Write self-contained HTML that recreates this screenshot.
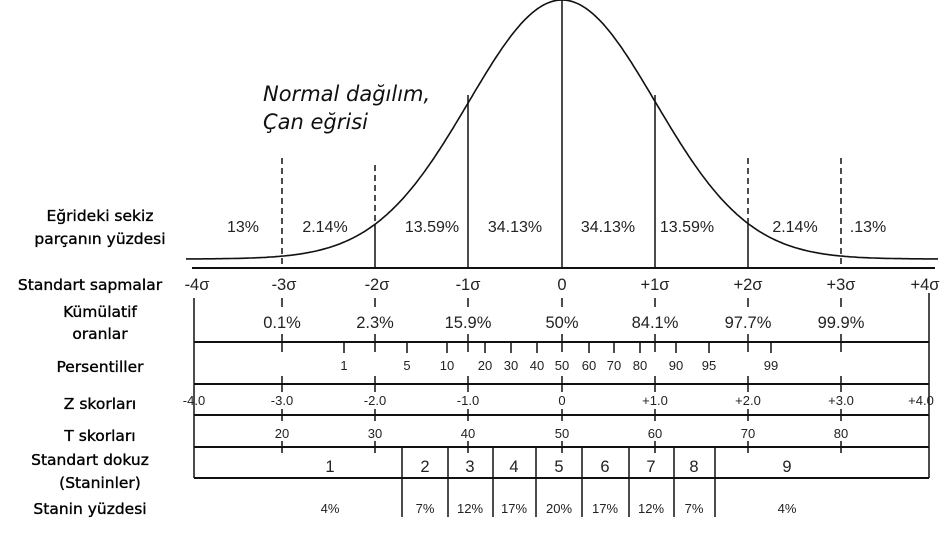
<!DOCTYPE html>
<html><head><meta charset="utf-8"><style>
html,body{margin:0;padding:0;background:#fff;}
svg{display:block}
.l{font-family:"DejaVu Sans","Liberation Sans",sans-serif;font-size:15.5px;fill:#000;text-anchor:middle;stroke:#000;stroke-width:0.35}
.a{font-family:"Liberation Sans",sans-serif;font-size:16px;fill:#222;text-anchor:middle}
.s{font-family:"Liberation Sans",sans-serif;font-size:13px;fill:#222;text-anchor:middle}
.b{font-family:"Liberation Sans",sans-serif;font-size:16.5px;fill:#222;text-anchor:middle}
</style></head><body>
<svg id="g" width="940" height="538" viewBox="0 0 940 538" xmlns="http://www.w3.org/2000/svg">
<g stroke="#111" stroke-width="1.5" fill="none" id="lines">
<path id="curve" stroke-width="1.6"/>
<line x1="192" y1="268" x2="935" y2="268" stroke-width="2"/>
<line x1="562" y1="0" x2="562" y2="268"/>
<line x1="468" y1="95" x2="468" y2="268"/>
<line x1="655" y1="95" x2="655" y2="268"/>
<line x1="375" y1="224" x2="375" y2="268"/>
<line x1="748" y1="224" x2="748" y2="268"/>
<line x1="375" y1="165" x2="375" y2="224" stroke-dasharray="6,4"/>
<line x1="748" y1="158" x2="748" y2="224" stroke-dasharray="6,4"/>
<line x1="282" y1="158" x2="282" y2="268" stroke-dasharray="6,4"/>
<line x1="841" y1="158" x2="841" y2="268" stroke-dasharray="6,4"/>
<line x1="194" y1="298" x2="194" y2="478"/>
<line x1="929" y1="293" x2="929" y2="478"/>
<line x1="194" y1="342" x2="929" y2="342" stroke-width="2"/>
<line x1="194" y1="384" x2="929" y2="384" stroke-width="2"/>
<line x1="194" y1="415" x2="929" y2="415" stroke-width="2"/>
<line x1="194" y1="447" x2="929" y2="447" stroke-width="2"/>
<line x1="194" y1="478" x2="929" y2="478" stroke-width="2"/>
<g id="ticks"></g>
<line x1="402" y1="447" x2="402" y2="517"/>
<line x1="448" y1="447" x2="448" y2="517"/>
<line x1="493" y1="447" x2="493" y2="517"/>
<line x1="536" y1="447" x2="536" y2="517"/>
<line x1="582" y1="447" x2="582" y2="517"/>
<line x1="629" y1="447" x2="629" y2="517"/>
<line x1="674" y1="447" x2="674" y2="517"/>
<line x1="715" y1="447" x2="715" y2="517"/>
</g>
<text x="263" y="101" style="font-family:'DejaVu Sans',sans-serif;font-style:italic;font-size:21px;fill:#111">Normal dağılım,</text>
<text x="263" y="129" style="font-family:'DejaVu Sans',sans-serif;font-style:italic;font-size:21px;fill:#111">Çan eğrisi</text>
<text class="l" x="100" y="221">Eğrideki sekiz</text>
<text class="l" x="100" y="244">parçanın yüzdesi</text>
<g class="a">
<text x="243" y="232">13%</text><text x="325" y="232">2.14%</text><text x="432" y="232">13.59%</text>
<text x="515" y="232">34.13%</text><text x="608" y="232">34.13%</text><text x="687" y="232">13.59%</text>
<text x="795" y="232">2.14%</text><text x="868" y="232">.13%</text>
</g>
<text class="l" x="90" y="290">Standart sapmalar</text>
<text class="l" x="100" y="317">Kümülatif</text>
<text class="l" x="100" y="339">oranlar</text>
<text class="l" x="100" y="372">Persentiller</text>
<text class="l" x="100" y="409">Z skorları</text>
<text class="l" x="100" y="441">T skorları</text>
<text class="l" x="90" y="465">Standart dokuz</text>
<text class="l" x="100" y="488">(Staninler)</text>
<text class="l" x="90" y="514">Stanin yüzdesi</text>
<g class="b">
<text x="197" y="290">-4σ</text><text x="284" y="290">-3σ</text><text x="377" y="290">-2σ</text><text x="468" y="290">-1σ</text>
<text x="562" y="290">0</text><text x="655" y="290">+1σ</text><text x="748" y="290">+2σ</text><text x="841" y="290">+3σ</text><text x="925" y="290">+4σ</text>
<text x="282" y="328">0.1%</text><text x="375" y="328">2.3%</text><text x="468" y="328">15.9%</text><text x="562" y="328">50%</text>
<text x="655" y="328">84.1%</text><text x="748" y="328">97.7%</text><text x="841" y="328">99.9%</text>
<text x="330" y="472">1</text><text x="425" y="472">2</text><text x="470" y="472">3</text><text x="514" y="472">4</text><text x="559" y="472">5</text>
<text x="605" y="472">6</text><text x="651" y="472">7</text><text x="694" y="472">8</text><text x="787" y="472">9</text>
</g>
<g class="s">
<text x="344" y="370">1</text><text x="407" y="370">5</text><text x="447" y="370">10</text><text x="485" y="370">20</text>
<text x="511" y="370">30</text><text x="537" y="370">40</text><text x="562" y="370">50</text><text x="589" y="370">60</text>
<text x="614" y="370">70</text><text x="640" y="370">80</text><text x="676" y="370">90</text><text x="709" y="370">95</text><text x="771" y="370">99</text>
<text x="194" y="405">-4.0</text><text x="282" y="405">-3.0</text><text x="375" y="405">-2.0</text><text x="468" y="405">-1.0</text>
<text x="562" y="405">0</text><text x="655" y="405">+1.0</text><text x="748" y="405">+2.0</text><text x="841" y="405">+3.0</text><text x="921" y="405">+4.0</text>
<text x="282" y="438">20</text><text x="375" y="438">30</text><text x="468" y="438">40</text><text x="562" y="438">50</text>
<text x="655" y="438">60</text><text x="748" y="438">70</text><text x="841" y="438">80</text>
<text x="330" y="513">4%</text><text x="425" y="513">7%</text><text x="470" y="513">12%</text><text x="514" y="513">17%</text>
<text x="559" y="513">20%</text><text x="605" y="513">17%</text><text x="651" y="513">12%</text><text x="694" y="513">7%</text><text x="787" y="513">4%</text>
</g>
</svg>
<script>
var d="";for(var i=0;i<=400;i++){var z=-4.03+8.06*i/400;var x=562+93.3*z;var y=259-259*Math.exp(-z*z/2);d+=(i?"L":"M")+x.toFixed(1)+" "+y.toFixed(1);}
document.getElementById("curve").setAttribute("d",d);
var t="",S=[282,375,468,562,655,748,841];
S.forEach(function(x){t+='<line x1="'+x+'" y1="298" x2="'+x+'" y2="307"/><line x1="'+x+'" y1="334" x2="'+x+'" y2="352"/><line x1="'+x+'" y1="376" x2="'+x+'" y2="392"/><line x1="'+x+'" y1="409" x2="'+x+'" y2="421"/><line x1="'+x+'" y1="441" x2="'+x+'" y2="453"/>';});
[344,407,447,485,511,537,589,614,640,676,709,771].forEach(function(x){t+='<line x1="'+x+'" y1="342" x2="'+x+'" y2="353"/>';});
document.getElementById("ticks").innerHTML=t;
</script>
</body></html>
